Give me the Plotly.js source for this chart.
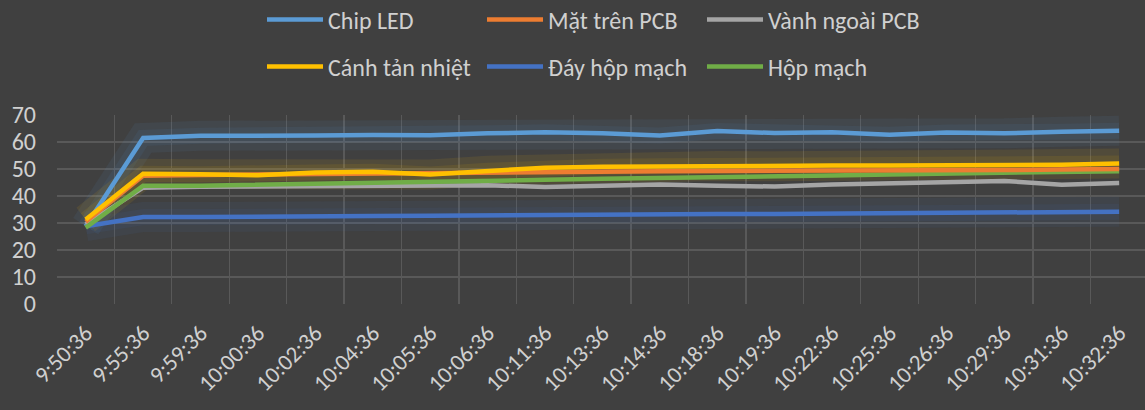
<!DOCTYPE html>
<html>
<head>
<meta charset="utf-8">
<script src="https://cdn.plot.ly/plotly-3.0.1.min.js"></script>
<style>html,body{margin:0;padding:0;background:#404040;}#chart{width:1145px;height:410px;}</style>
</head>
<body>
<div id="chart"></div>
<script>
var times = ["9:50:36","9:55:36","9:59:36","10:00:36","10:02:36","10:04:36","10:05:36","10:06:36","10:11:36","10:13:36","10:14:36","10:18:36","10:19:36","10:22:36","10:25:36","10:26:36","10:29:36","10:31:36","10:32:36"];
var chipLED      = [28.8,61.5,62.3,62.2,62.4,62.6,62.5,63.2,63.6,63.2,62.4,64.1,63.3,63.6,62.7,63.5,63.2,63.8,64.2];
var matTrenPCB   = [30.5,47.5,47.8,48.0,48.3,48.6,48.6,48.8,49.0,49.0,49.2,49.3,49.3,49.5,49.5,49.6,49.6,49.8,50.0];
var vanhNgoaiPCB = [29.5,43.1,43.4,43.6,43.7,43.8,43.8,44.0,43.3,44.0,44.3,43.8,43.5,44.3,44.8,45.0,45.6,44.2,44.8];
var canhTanNhiet = [31.3,48.2,48.1,47.7,48.7,49.0,48.0,49.4,50.5,50.8,51.0,51.1,51.0,51.3,51.3,51.4,51.3,51.6,52.0];
var dayHopMach   = [28.8,32.2,32.2,32.2,32.4,32.6,32.7,32.9,33.0,33.1,33.3,33.3,33.3,33.5,33.6,33.7,34.0,34.1,34.2];
var hopMach      = [28.3,43.8,43.8,44.1,44.5,44.9,45.3,45.7,46.0,46.4,46.6,46.9,47.2,47.6,48.0,48.4,48.6,48.9,49.2];
var yTicks = [0,10,20,30,40,50,60,70];

var series = [
  {name:"Chip LED", y:chipLED, color:"#5B9BD5", glow:"rgba(91,155,213,0.08)", legend:"legend"},
  {name:"Mặt trên PCB", y:matTrenPCB, color:"#ED7D31", glow:null, legend:"legend"},
  {name:"Vành ngoài PCB", y:vanhNgoaiPCB, color:"#A5A5A5", glow:null, legend:"legend"},
  {name:"Cánh tản nhiệt", y:canhTanNhiet, color:"#FFC000", glow:"rgba(255,192,0,0.09)", legend:"legend2"},
  {name:"Đáy hộp mạch", y:dayHopMach, color:"#4472C4", glow:"rgba(68,114,196,0.08)", legend:"legend2"},
  {name:"Hộp mạch", y:hopMach, color:"#70AD47", glow:null, legend:"legend2"}
];

var traces = [];
series.forEach(function(s){
  if (s.glow) {
    [30, 16].forEach(function(w){
      traces.push({x:times, y:s.y, type:"scatter", mode:"lines", showlegend:false, hoverinfo:"skip",
        line:{color:s.glow, width:w}});
    });
  }
});
var drawOrder = [0,4,2,5,1,3];
drawOrder.forEach(function(i){
  var s = series[i];
  traces.push({x:times, y:s.y, type:"scatter", mode:"lines", name:s.name, legend:s.legend,
    legendrank: i+1, line:{color:s.color, width:4.5}});
});

var fam = "Carlito, 'Liberation Sans Narrow', 'Liberation Sans', sans-serif";
var font = {family:fam, color:"#d0d0d0", size:24};
function leg(yc){
  return {orientation:"h", xref:"container", yref:"container", x:262/1145, xanchor:"left", y:yc, yanchor:"middle",
    entrywidth:149, entrywidthmode:"pixels", itemwidth:56, traceorder:"normal", font:font, bgcolor:"rgba(0,0,0,0)"};
}
var layout = {
  width:1145, height:410,
  paper_bgcolor:"#404040", plot_bgcolor:"#404040",
  margin:{l:57, r:0, t:115, b:106},
  font:font,
  showlegend:true,
  legend:leg(1-20/410),
  legend2:leg(1-67/410),
  xaxis:{type:"category", range:[-0.5,18.45], tickson:"boundaries", showgrid:true, gridcolor:"#595959", gridwidth:1.3,
    zeroline:false, showline:false, ticks:"", tickangle:-45, tickfont:{family:fam, color:"#d0d0d0", size:23},
    ticklabelstandoff:10, fixedrange:true, automargin:false},
  yaxis:{range:[0,70], tickvals:yTicks, ticktext:yTicks.map(String), showgrid:true, gridcolor:"#595959", gridwidth:1.3,
    zeroline:false, showline:false, ticks:"", ticklabelstandoff:20, tickfont:{family:fam, color:"#d0d0d0", size:24},
    fixedrange:true, automargin:false}
};
Plotly.newPlot("chart", traces, layout, {displayModeBar:false, staticPlot:true});
</script>
</body>
</html>
